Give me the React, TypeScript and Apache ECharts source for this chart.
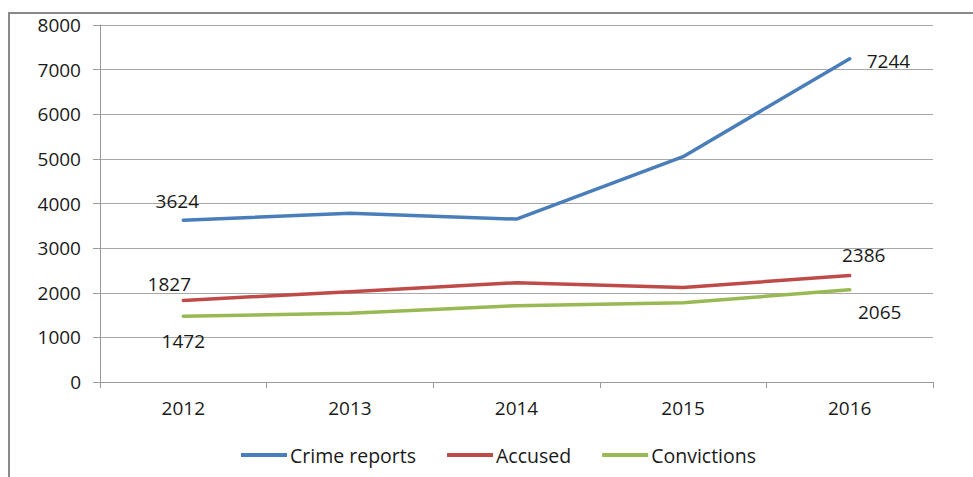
import React, { useEffect, useRef } from "react";
import * as echarts from "echarts";

const years = ["2012", "2013", "2014", "2015", "2016"];
const crimeReports = [3624, 3783, 3650, 5050, 7244];
const accused = [1827, 2025, 2225, 2120, 2386];
const convictions = [1472, 1540, 1710, 1778, 2065];
const yTicks = { min: 0, max: 8000, interval: 1000 };

const FONT = "Open Sans";
const FS = 19;

type LabelSpec = { position: string; offset: [number, number] };

function withLabels(values: number[], first: LabelSpec, last: LabelSpec) {
  return values.map((v, i) => {
    if (i === 0 || i === values.length - 1) {
      const spec = i === 0 ? first : last;
      return {
        value: v,
        label: {
          show: true,
          position: spec.position,
          offset: spec.offset,
          color: "#1a1a1a",
          fontFamily: FONT,
          fontSize: FS,
        },
      };
    }
    return { value: v };
  });
}

export default function App() {
  const ref = useRef<HTMLDivElement>(null);
  useEffect(() => {
    document.body.style.margin = "0";
    const chart = echarts.init(ref.current!, undefined, { renderer: "svg" });
    const lineSeries = (name: string, color: string, data: any[]) => ({
      name,
      type: "line",
      data,
      symbol: "circle",
      symbolSize: 0,
      showSymbol: true,
      lineStyle: { color, width: 3.5, cap: "round", join: "round" },
      itemStyle: { color },
      label: { show: false },
    });
    chart.setOption({
      animation: false,
      backgroundColor: "#ffffff",
      textStyle: { fontFamily: FONT },
      graphic: [
        {
          type: "rect",
          shape: { x: 9, y: 13, width: 1000, height: 500 },
          style: { fill: "none", stroke: "#8a8a8a", lineWidth: 2 },
          silent: true,
          z: -10,
        },
      ],
      grid: { left: 100, right: 40, top: 25, bottom: 95, containLabel: false },
      legend: {
        bottom: 7,
        left: 236,
        itemWidth: 46,
        itemHeight: 4,
        itemGap: 31,
        icon: "rect",
        textStyle: { fontFamily: FONT, fontSize: 19.5, color: "#1a1a1a", padding: [0, 0, 0, -2] },
        data: ["Crime reports", "Accused", "Convictions"],
      },
      xAxis: {
        type: "category",
        data: years,
        boundaryGap: true,
        axisLine: { lineStyle: { color: "#9a9a9a", width: 1 } },
        axisTick: { show: true, length: 6, lineStyle: { color: "#9a9a9a" }, alignWithLabel: false },
        axisLabel: { fontFamily: FONT, fontSize: FS, color: "#1a1a1a", margin: 16 },
        splitLine: { show: false },
      },
      yAxis: {
        type: "value",
        min: yTicks.min,
        max: yTicks.max,
        interval: yTicks.interval,
        axisLine: { show: true, lineStyle: { color: "#9a9a9a", width: 1 } },
        axisTick: { show: true, length: 7, lineStyle: { color: "#9a9a9a" } },
        axisLabel: {
          fontFamily: FONT,
          fontSize: FS,
          color: "#1a1a1a",
          margin: 19,
          formatter: (v: number) => String(v),
        },
        splitLine: { show: true, lineStyle: { color: "#a8a8a8", width: 1 } },
      },
      series: [
        lineSeries(
          "Crime reports",
          "#4a7ebb",
          withLabels(crimeReports, { position: "top", offset: [-6, -5] }, { position: "right", offset: [12, 2] })
        ),
        lineSeries(
          "Accused",
          "#be4b48",
          withLabels(accused, { position: "top", offset: [-14, -2] }, { position: "top", offset: [14, -6] })
        ),
        lineSeries(
          "Convictions",
          "#98b954",
          withLabels(convictions, { position: "bottom", offset: [0, 10] }, { position: "bottom", offset: [30, 8] })
        ),
      ],
    });
    return () => chart.dispose();
  }, []);
  return <div ref={ref} style={{ width: 973, height: 477 }} />;
}
